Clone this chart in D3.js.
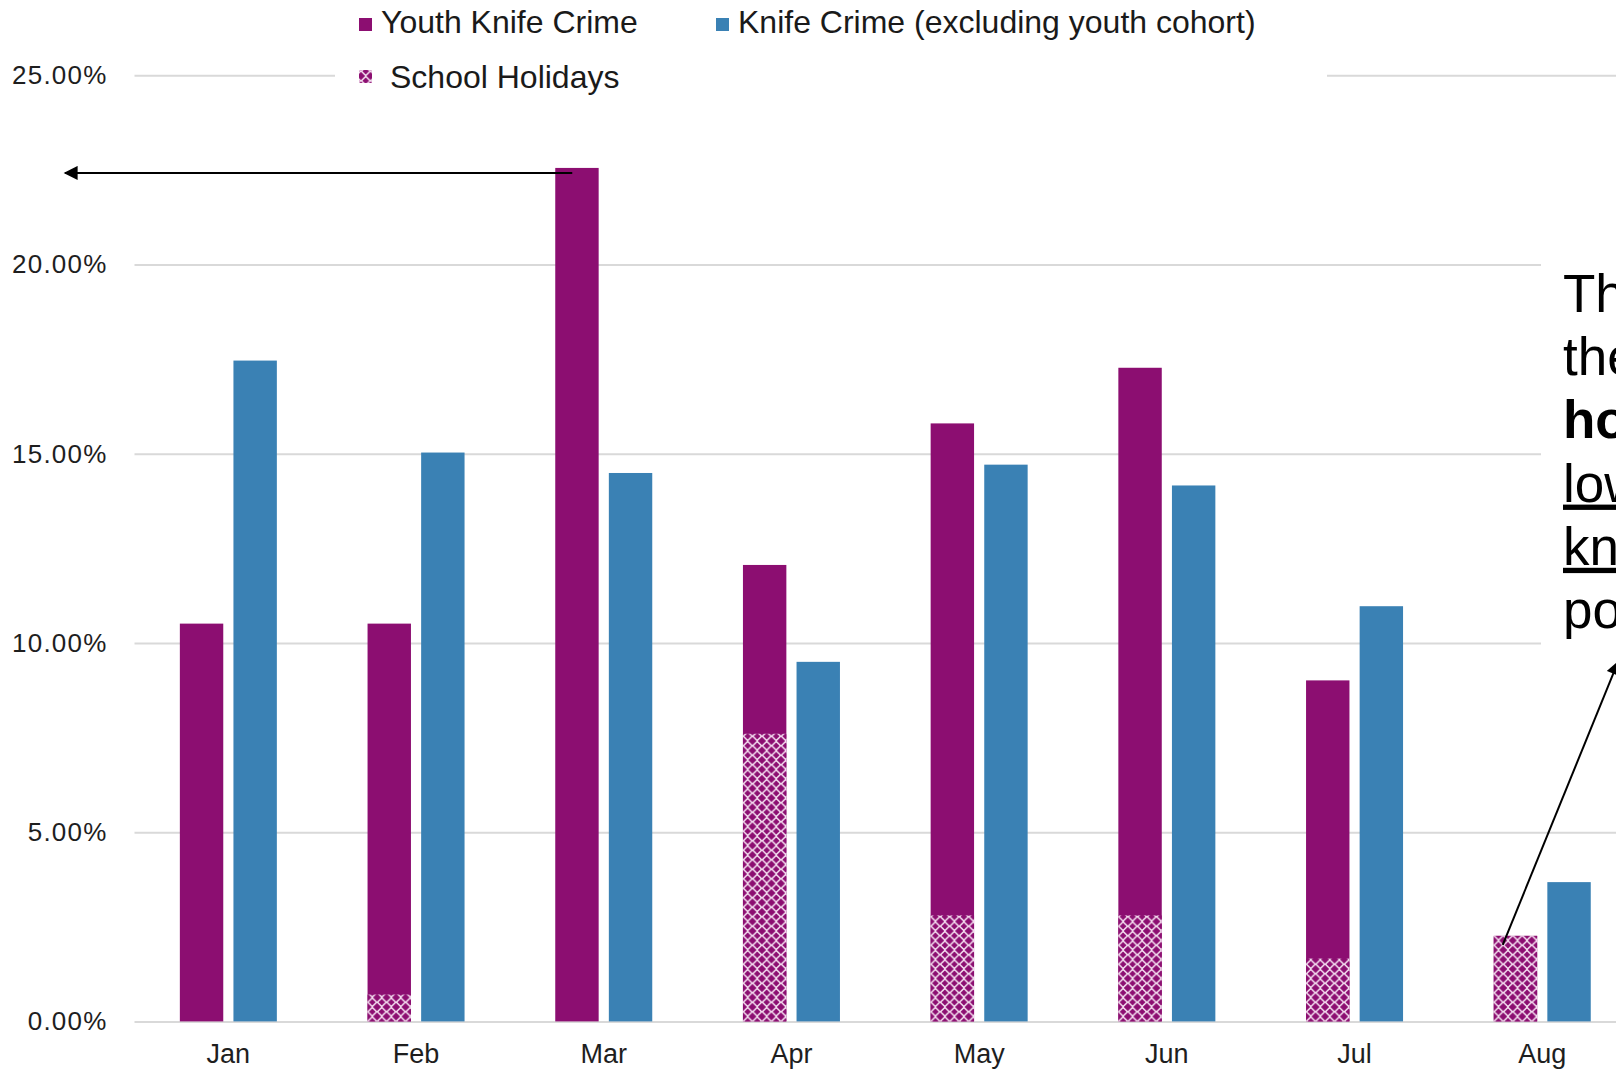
<!DOCTYPE html>
<html>
<head>
<meta charset="utf-8">
<script src="https://cdn.jsdelivr.net/npm/d3@7/dist/d3.min.js"></script>
<style>
  html, body { margin: 0; padding: 0; background: #fff; overflow: hidden; }
  svg { display: block; font-family: "Liberation Sans", Arial, sans-serif; }
</style>
</head>
<body>
<svg id="chart" width="1616" height="1071"></svg>
<script>
// Monthly share of knife crime, youth cohort vs everyone else
const months = ["Jan", "Feb", "Mar", "Apr", "May", "Jun", "Jul", "Aug"];
const youthKnifeCrime = [10.51, 10.51, 22.55, 12.06, 15.80, 17.27, 9.01, 2.26];
const schoolHolidays = [0, 0.71, 0, 7.60, 2.80, 2.80, 1.66, 2.26];
const otherKnifeCrime = [17.46, 15.03, 14.49, 9.50, 14.71, 14.16, 10.97, 3.68];
const yTicks = [0, 5, 10, 15, 20, 25];
const seriesKeys = ["youth", "other"];
const legendLabels = ["Youth Knife Crime", "Knife Crime (excluding youth cohort)", "School Holidays"];
const noteLines = [
  { text: "Th", weight: "normal", underline: false },
  { text: "the", weight: "normal", underline: false },
  { text: "ho", weight: "bold", underline: false },
  { text: "low", weight: "normal", underline: true },
  { text: "kn", weight: "normal", underline: true },
  { text: "po", weight: "normal", underline: false }
];

const PURPLE = "#8c0e71";
const BLUE = "#3a81b4";
const GRID = "#d9d9d9";

const svg = d3.select("#chart");

// Plot area: the month axis runs on past the right edge of the page
const left = 134.5, step = 187.7;
const x0 = d3.scaleBand().domain(months).range([left, left + step * months.length]).padding(0);
const groupW = 97;
const x1 = d3.scaleBand().domain(seriesKeys).range([0, groupW]).paddingInner(0.19).paddingOuter(0);
const y = d3.scaleLinear().domain([0, 25]).range([1021.4, 75.2]);

// Hatch used for the school-holiday part of the youth bars
const defs = svg.append("defs");
const pat = defs.append("pattern")
  .attr("id", "holidayHatch")
  .attr("patternUnits", "userSpaceOnUse")
  .attr("width", 9.5).attr("height", 9.5);
pat.append("rect").attr("width", 9.5).attr("height", 9.5).attr("fill", PURPLE);
pat.append("path")
  .attr("d", "M4.75,0.4 L9.1,4.75 L4.75,9.1 L0.4,4.75 Z")
  .attr("fill", "none").attr("stroke", "#f6e2f2").attr("stroke-width", 1.5);
pat.append("path")
  .attr("d", "M4.75,2.4 V7.1 M2.4,4.75 H7.1")
  .attr("stroke", PURPLE).attr("stroke-width", 1.8);

defs.append("marker")
  .attr("id", "arrowHead")
  .attr("viewBox", "0 0 10 10")
  .attr("refX", 9).attr("refY", 5)
  .attr("markerWidth", 8).attr("markerHeight", 7)
  .attr("markerUnits", "strokeWidth")
  .attr("orient", "auto-start-reverse")
  .append("path").attr("d", "M0,0 L10,5 L0,10 Z").attr("fill", "#000");

// Gridlines and value labels
const yAxis = d3.axisLeft(y)
  .tickValues(yTicks)
  .tickFormat(d => d3.format(".2f")(d) + "%")
  .tickSize(-(1616 - left))
  .tickPadding(27);
const gy = svg.append("g").attr("transform", `translate(${left},0)`).call(yAxis);
gy.select(".domain").remove();
gy.selectAll(".tick line").attr("stroke", GRID).attr("stroke-width", 2);
gy.selectAll(".tick text")
  .attr("font-size", 26).attr("fill", "#1e1e1e")
  .attr("font-family", "'Liberation Sans', Arial, sans-serif")
  .attr("letter-spacing", 1.2);

// Month labels
const xAxis = d3.axisBottom(x0).tickSize(0).tickPadding(0);
const gx = svg.append("g").attr("transform", `translate(0,${y(0)})`).call(xAxis);
gx.select(".domain").remove();
gx.selectAll(".tick text")
  .attr("font-size", 27).attr("fill", "#1e1e1e")
  .attr("font-family", "'Liberation Sans', Arial, sans-serif")
  .attr("dy", 0).attr("y", 42);

// Bars
const groupOffset = (step - groupW) / 2;
const groups = svg.append("g").selectAll("g")
  .data(months.map((m, i) => ({ m, youth: youthKnifeCrime[i], hol: schoolHolidays[i], other: otherKnifeCrime[i] })))
  .join("g")
  .attr("transform", d => `translate(${x0(d.m) + groupOffset},0)`);

groups.append("rect")
  .attr("x", x1("youth")).attr("width", x1.bandwidth())
  .attr("y", d => y(d.youth)).attr("height", d => y(0) - y(d.youth))
  .attr("fill", PURPLE);
groups.filter(d => d.hol > 0).append("rect")
  .attr("x", x1("youth")).attr("width", x1.bandwidth())
  .attr("y", d => y(d.hol)).attr("height", d => y(0) - y(d.hol))
  .attr("fill", "url(#holidayHatch)");
groups.append("rect")
  .attr("x", x1("other")).attr("width", x1.bandwidth())
  .attr("y", d => y(d.other)).attr("height", d => y(0) - y(d.other))
  .attr("fill", BLUE);

// Legend, on a white panel over the top gridline
const legend = svg.append("g");
legend.append("rect").attr("x", 335).attr("y", 0).attr("width", 992).attr("height", 100).attr("fill", "#fff");
const legendItems = [
  { label: legendLabels[0], fill: PURPLE, sx: 359, sy: 18, tx: 381, ty: 33 },
  { label: legendLabels[1], fill: BLUE, sx: 716, sy: 18, tx: 738, ty: 33 },
  { label: legendLabels[2], fill: "url(#holidayHatch)", sx: 359, sy: 70, tx: 390, ty: 88 }
];
legendItems.forEach(it => {
  legend.append("rect").attr("x", it.sx).attr("y", it.sy).attr("width", 13).attr("height", 13).attr("fill", it.fill);
  legend.append("text").attr("x", it.tx).attr("y", it.ty)
    .attr("font-size", 32).attr("fill", "#1a1a1a").text(it.label);
});

// Arrow from the March peak back to the value axis
const marX = x0("Mar") + groupOffset + x1("youth");
svg.append("line")
  .attr("x1", marX + 17).attr("y1", y(youthKnifeCrime[2]) + 5)
  .attr("x2", 65).attr("y2", y(youthKnifeCrime[2]) + 5)
  .attr("stroke", "#000").attr("stroke-width", 2)
  .attr("marker-end", "url(#arrowHead)");

// Side note on the right
const note = svg.append("g");
note.append("rect").attr("x", 1541).attr("y", 240).attr("width", 90).attr("height", 420).attr("fill", "#fff");
noteLines.forEach((ln, i) => {
  note.append("text")
    .attr("x", 1563).attr("y", 312 + i * 63.2)
    .attr("font-size", 53).attr("font-weight", ln.weight)
    .attr("text-decoration", ln.underline ? "underline" : null)
    .attr("fill", "#000")
    .text(ln.text);
});

// Arrow from the August school-holiday bar up to the note
const augX = x0("Aug") + groupOffset + x1("youth");
svg.append("line")
  .attr("x1", augX + 9).attr("y1", y(schoolHolidays[7]) + 9)
  .attr("x2", 1618).attr("y2", 662)
  .attr("stroke", "#000").attr("stroke-width", 2)
  .attr("marker-end", "url(#arrowHead)");
</script>
</body>
</html>
